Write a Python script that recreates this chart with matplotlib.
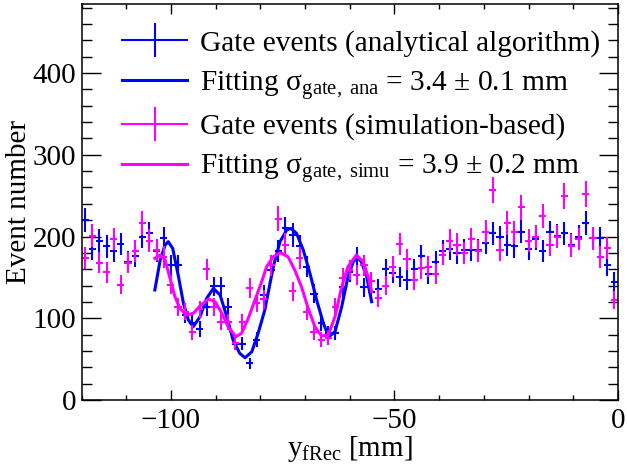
import numpy as np
import matplotlib
matplotlib.use("Agg")
import matplotlib.pyplot as plt
from matplotlib.lines import Line2D
from matplotlib.ticker import MultipleLocator

plt.rcParams['font.family'] = ['Liberation Serif', 'DejaVu Serif']
plt.rcParams['mathtext.fontset'] = 'custom'
plt.rcParams['mathtext.rm'] = 'Liberation Serif'
plt.rcParams['mathtext.it'] = 'Liberation Serif:italic'

# --- histogram bins (1.6 mm wide) ---
bin_edges = np.linspace(-120, 0, 76)

counts_ana = [220, 185, 195, 188, 182, 191, 169, 176, 200, 204,
              182, 198, 165, 165, 104, 94, 87, 114, 139, 139,
              114, 69, 69, 45, 74, 129, 159, 182, 210, 202,
              188, 163, 130, 94, 82, 82, 138, 157, 174, 138,
              132, 136, 160, 155, 151, 147, 160, 176, 154, 169,
              182, 185, 180, 184, 183, 183, 192, 204, 199, 190,
              188, 206, 185, 197, 182, 205, 201, 204, 190, 200,
              216, 198, 198, 165, 144]

counts_simu = [174, 201, 168, 156, 197, 141, 168, 182, 216, 195,
               183, 175, 141, 114, 108, 83, 111, 160, 114, 96,
               95, 70, 95, 137, 119, 123, 165, 222, 190, 133,
               174, 108, 83, 74, 76, 114, 149, 159, 153, 165,
               145, 125, 140, 163, 191, 172, 147, 161, 163, 154,
               178, 195, 190, 180, 197, 182, 206, 257, 183, 217,
               205, 236, 195, 200, 225, 190, 200, 250, 189, 197,
               252, 198, 175, 186, 122]

# --- fitted curves ---
fit_ana_x = [-103.6, -102.4, -101.3, -100.6, -99.6, -98.3, -97.2, -96.1, -95.0,
             -93.5, -92.0, -90.5, -89.0, -87.5, -86.1, -84.6, -83.4, -81.9,
             -80.5, -79.0, -77.1, -75.6, -74.1, -73.2, -71.9, -70.4, -68.9,
             -67.4, -65.9, -64.7, -63.3, -61.8, -60.4, -59.2, -58.3, -57.4,
             -56.2, -55.1]
fit_ana_y = [134.6, 171.3, 189.6, 193.7, 185.5, 150.8, 118.3, 97.9, 89.7,
             101.9, 124.4, 136.6, 128.4, 101.9, 73.4, 57.1, 51.7, 59.1,
             81.6, 110.1, 163.1, 193.7, 208.0, 210.0, 203.9, 183.5, 155.0,
             122.3, 93.8, 77.4, 83.5, 114.1, 150.8, 169.2, 174.5, 169.2,
             150.8, 120.2]

fit_simu_x = [-103.6, -102.4, -101.3, -100.2, -99.1, -98.0, -96.5, -95.0, -93.5,
              -91.6, -90.1, -88.6, -87.2, -85.5, -84.2, -82.7, -81.2, -79.7,
              -78.6, -77.1, -75.5, -73.8, -72.3, -70.8, -69.3, -67.8, -66.3,
              -64.8, -63.3, -61.8, -60.4, -58.5, -57.0, -55.9, -55.1]
fit_simu_y = [173.3, 177.4, 171.3, 148.9, 126.4, 112.2, 104.0, 106.0, 115.0,
              123.5, 120.2, 106.0, 89.7, 77.4, 81.6, 99.9, 122.3, 144.7,
              163.1, 175.3, 180.2, 175.3, 159.0, 138.6, 112.2, 89.7, 78.3,
              79.5, 101.9, 138.6, 163.1, 177.4, 169.2, 150.8, 132.5]

labels = ["Gate events (analytical algorithm)",
          r"Fitting σ$_{\mathrm{gate,\ ana}}$ = 3.4 ± 0.1 mm",
          "Gate events (simulation-based)",
          r"Fitting σ$_{\mathrm{gate,\ simu}}$ = 3.9 ± 0.2 mm"]

blue = (0, 0, 1)
magenta = (1, 0, 1)

centers = 0.5 * (bin_edges[:-1] + bin_edges[1:])
half_w = 0.5 * np.diff(bin_edges)

fig = plt.figure(figsize=(6.27, 4.72), dpi=100)
ax = fig.add_axes([0.130, 0.1525, 0.8556, 0.840])

ax.errorbar(centers, counts_ana, xerr=half_w, yerr=np.sqrt(counts_ana),
            fmt='none', ecolor=blue, elinewidth=1.5, capsize=0)
ax.plot(fit_ana_x, fit_ana_y, color=blue, lw=2.2)
ax.errorbar(centers, counts_simu, xerr=half_w, yerr=np.sqrt(counts_simu),
            fmt='none', ecolor=magenta, elinewidth=1.5, capsize=0)
ax.plot(fit_simu_x, fit_simu_y, color=magenta, lw=2.2)

ax.set_xlim(-120, 0)
ax.set_ylim(0, 485)

ax.xaxis.set_major_locator(MultipleLocator(50))
ax.xaxis.set_minor_locator(MultipleLocator(10))
ax.yaxis.set_major_locator(MultipleLocator(100))
ax.yaxis.set_minor_locator(MultipleLocator(20))
ax.tick_params(which='both', direction='in', top=True, right=True,
               labelsize=21, width=1.0)
ax.tick_params(axis='y', which='major', length=14, pad=4)
ax.tick_params(axis='y', which='minor', length=7)
ax.tick_params(axis='x', which='major', length=7, pad=6)
ax.tick_params(axis='x', which='minor', length=3.6)
for s in ax.spines.values():
    s.set_linewidth(1.1)

ax.set_xlabel(r"y$_{\mathrm{fRec}}$ [mm]", fontsize=21)
ax.set_ylabel("Event number", fontsize=21)
ax.xaxis.set_label_coords(0.5, -0.085)
ax.yaxis.set_label_coords(-0.093, 0.5)

# legend handles: cross for data, line for fits
def cross(color):
    return Line2D([0], [0], color=color, lw=1.5, marker='|', markersize=24,
                  markeredgewidth=1.5)

handles = [cross(blue), Line2D([0], [0], color=blue, lw=2.2),
           cross(magenta), Line2D([0], [0], color=magenta, lw=2.2)]
ax.legend(handles, labels, loc='upper left', bbox_to_anchor=(0.054, 0.963),
          frameon=False, fontsize=21.2, handlelength=2.2, handletextpad=0.45,
          labelspacing=0.4, borderaxespad=0)

fig.savefig("out.png", dpi=100)
